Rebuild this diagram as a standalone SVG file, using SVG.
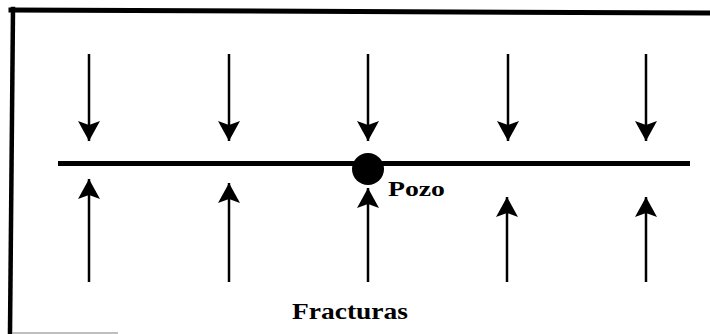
<svg xmlns="http://www.w3.org/2000/svg" width="710" height="334" viewBox="0 0 710 334">
  <style>
    .frame { stroke: #000; fill: none; stroke-linecap: square; }
    .shaft { stroke: #000; stroke-width: 2.5; fill: none; }
    .label { font-family: "Liberation Serif", "Times New Roman", serif; font-weight: bold; fill: #000; }
  </style>
  <defs>
    <marker id="ah" viewBox="0 0 20 22" refX="20" refY="11" markerWidth="21" markerHeight="22" markerUnits="userSpaceOnUse" orient="auto">
      <path d="M0,0 L20,11 L0,22 L4,11 Z" fill="#000"/>
    </marker>
  </defs>
  <rect width="710" height="334" fill="#fff"/>
  <g id="frame">
    <path class="frame" d="M13,9 L10,333" stroke-width="4.5"/>
    <path class="frame" d="M11,10 L710,13" stroke-width="5"/>
    <path d="M12,333 L118,333" stroke="#aaa" stroke-width="1.5"/>
  </g>
  <g id="fracture">
    <path d="M58,163.5 L690,163.5" stroke="#000" stroke-width="5"/>
  </g>
  <g id="connectors">
    <line class="shaft" x1="89" y1="54" x2="89" y2="141" marker-end="url(#ah)"/>
    <line class="shaft" x1="229" y1="54" x2="229" y2="141" marker-end="url(#ah)"/>
    <line class="shaft" x1="368" y1="54" x2="368" y2="141" marker-end="url(#ah)"/>
    <line class="shaft" x1="508" y1="54" x2="508" y2="141" marker-end="url(#ah)"/>
    <line class="shaft" x1="646" y1="54" x2="646" y2="141" marker-end="url(#ah)"/>
    <line class="shaft" x1="89" y1="282" x2="89" y2="179" marker-end="url(#ah)"/>
    <line class="shaft" x1="229" y1="282" x2="229" y2="183" marker-end="url(#ah)"/>
    <line class="shaft" x1="368" y1="282" x2="368" y2="188" marker-end="url(#ah)"/>
    <line class="shaft" x1="507" y1="282" x2="507" y2="197" marker-end="url(#ah)"/>
    <line class="shaft" x1="646" y1="282" x2="646" y2="197" marker-end="url(#ah)"/>
  </g>
  <g id="pozo">
    <circle cx="368" cy="169" r="16" fill="#000"/>
    <text class="label" x="388" y="196" font-size="21" textLength="57" lengthAdjust="spacingAndGlyphs">Pozo</text>
  </g>
  <g id="fracturas">
    <text class="label" x="292" y="319" font-size="24" textLength="116" lengthAdjust="spacingAndGlyphs">Fracturas</text>
  </g>
</svg>
